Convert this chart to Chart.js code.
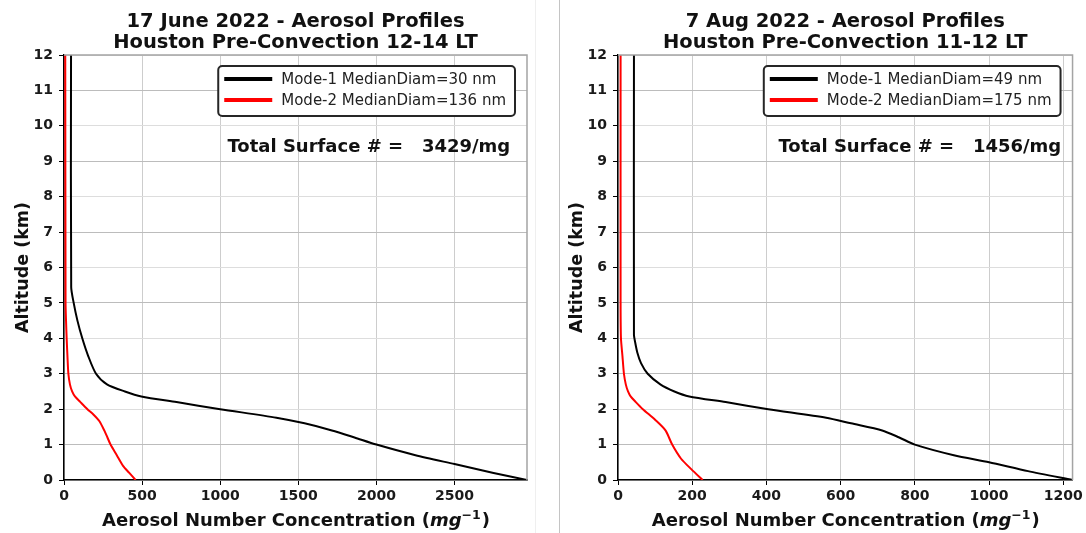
<!DOCTYPE html>
<html>
<head>
<meta charset="utf-8">
<script src="https://cdn.jsdelivr.net/npm/chart.js@4.4.1/dist/chart.umd.min.js"></script>
<style>
  html, body { margin: 0; padding: 0; background: #fff; }
  #wrap { position: relative; width: 1086px; height: 533px; overflow: hidden; }
  .panel { position: absolute; top: 0; height: 533px; }
  #p1 { left: 0; width: 535px; }
  #p2 { left: 554px; width: 532px; }
  .rule { position: absolute; top: 0; width: 1px; height: 533px; }
  canvas { display: block; }
</style>
</head>
<body>
<div id="wrap">
  <div class="rule" style="left:535px;background:#efefef"></div>
  <div class="rule" style="left:559px;background:#c4c4c4"></div>
  <div class="panel" id="p1"><canvas id="c1" width="535" height="533"></canvas></div>
  <div class="panel" id="p2"><canvas id="c2" width="532" height="533"></canvas></div>
</div>
<script>
// ---- 17 June 2022 profiles (altitude in km, concentration in mg^-1) ----
const juneAltMode1 = [0, 0.2, 0.45, 0.7, 1.0, 1.2, 1.4, 1.6, 1.76, 2.0, 2.2, 2.36, 2.5, 2.7, 3.0, 3.5, 4.0, 4.5, 5.0, 5.45, 12];
const juneMode1    = [2964, 2750, 2500, 2250, 2000, 1860, 1715, 1540, 1360, 1000, 720, 495, 390, 275, 205, 155, 117, 86, 62, 46, 45];
const juneAltMode2 = [0, 0.2, 0.4, 0.7, 1.0, 1.2, 1.38, 1.66, 1.85, 2.0, 2.2, 2.36, 2.5, 2.7, 3.0, 3.5, 4.0, 4.5, 5.0, 12];
const juneMode2    = [458, 418, 378, 338, 298, 278, 260, 227, 188, 150, 105, 70, 52, 38, 28, 22, 17, 13, 10, 8];
const juneXTicks   = [0, 500, 1000, 1500, 2000, 2500];

// ---- 7 Aug 2022 profiles ----
const augAltMode1 = [0, 0.25, 0.5, 0.7, 1.0, 1.2, 1.4, 1.6, 1.76, 2.0, 2.2, 2.36, 2.5, 2.7, 3.0, 3.3, 3.6, 3.9, 4.1, 12];
const augMode1    = [1225, 1105, 1000, 905, 800, 758, 712, 628, 561, 405, 290, 192, 152, 114, 80, 62, 52, 46, 43, 43];
const augAltMode2 = [0, 0.3, 0.6, 1.0, 1.4, 1.7, 2.0, 2.2, 2.36, 2.5, 2.7, 3.0, 3.5, 4.0, 5.0, 12];
const augMode2    = [228, 198, 170, 146, 128, 100, 67, 48, 34, 27, 21, 16, 12, 8, 7, 7];
const augXTicks   = [0, 200, 400, 600, 800, 1000, 1200];

// ---- shared altitude ticks ----
const altTicks = [0, 1, 2, 3, 4, 5, 6, 7, 8, 9, 10, 11, 12];

// ---- labels ----
const juneTitle  = ['17 June 2022 - Aerosol Profiles', 'Houston Pre-Convection 12-14 LT'];
const augTitle   = ['7 Aug 2022 - Aerosol Profiles', 'Houston Pre-Convection 11-12 LT'];
const juneLabels = ['Mode-1 MedianDiam=30 nm', 'Mode-2 MedianDiam=136 nm'];
const augLabels  = ['Mode-1 MedianDiam=49 nm', 'Mode-2 MedianDiam=175 nm'];
const juneSurface = 'Total Surface # =   3429/mg';
const augSurface  = 'Total Surface # =   1456/mg';
const yTitle = 'Altitude (km)';
const xTitleParts = ['Aerosol Number Concentration (', 'mg', '\u22121', ')'];

const FONT = '"DejaVu Sans", Verdana, sans-serif';
Chart.defaults.font.family = FONT;

function profile(alts, vals) {
  return alts.map((a, i) => ({ x: vals[i], y: a }));
}

// Titles, in-plot legend, annotation, top/right spines and the x-axis title
const decor = {
  id: 'decor',
  afterDraw(chart, args, o) {
    const { ctx, chartArea: a } = chart;
    const cx = (a.left + a.right) / 2;
    ctx.save();

    // top and right spines
    ctx.strokeStyle = '#a4a4a4';
    ctx.lineWidth = 1.5;
    ctx.beginPath();
    ctx.moveTo(a.left, a.top);
    ctx.lineTo(a.right, a.top);
    ctx.lineTo(a.right, a.bottom);
    ctx.stroke();

    // two-line title
    ctx.fillStyle = '#111';
    ctx.textAlign = 'center';
    ctx.textBaseline = 'alphabetic';
    ctx.font = 'bold 19.5px ' + FONT;
    o.title.forEach((t, i) => ctx.fillText(t, cx, 27 + i * 21));

    // total surface annotation
    ctx.textAlign = 'left';
    ctx.font = 'bold 18px ' + FONT;
    ctx.fillText(o.surface, a.left + 0.353 * (a.right - a.left), 152);

    // legend box
    const ds = chart.data.datasets;
    ctx.font = '15px ' + FONT;
    const tw = Math.max(...ds.map(d => ctx.measureText(d.label).width));
    const w = 6 + 48 + 9 + tw + 9, h = 50;
    const x0 = a.right - 12 - w, y0 = a.top + 11;
    ctx.beginPath();
    ctx.roundRect(x0, y0, w, h, 4);
    ctx.fillStyle = '#fff';
    ctx.fill();
    ctx.strokeStyle = '#262626';
    ctx.lineWidth = 2;
    ctx.stroke();
    ds.forEach((d, i) => {
      const yy = y0 + 13 + i * 21;
      ctx.strokeStyle = d.borderColor;
      ctx.lineWidth = 4;
      ctx.beginPath();
      ctx.moveTo(x0 + 6, yy);
      ctx.lineTo(x0 + 54, yy);
      ctx.stroke();
      ctx.fillStyle = '#222';
      ctx.textBaseline = 'middle';
      ctx.fillText(d.label, x0 + 63, yy + 1);
    });

    // x-axis title with italic unit and superscript
    const parts = [
      { t: xTitleParts[0], f: 'bold 18px ' + FONT, dy: 0 },
      { t: xTitleParts[1], f: 'italic bold 18px ' + FONT, dy: 0 },
      { t: xTitleParts[2], f: 'bold 12.5px ' + FONT, dy: -7 },
      { t: xTitleParts[3], f: 'bold 18px ' + FONT, dy: 0 }
    ];
    let total = 0;
    parts.forEach(p => { ctx.font = p.f; p.w = ctx.measureText(p.t).width; total += p.w; });
    let x = cx - total / 2;
    ctx.textAlign = 'left';
    ctx.textBaseline = 'alphabetic';
    ctx.fillStyle = '#111';
    parts.forEach(p => { ctx.font = p.f; ctx.fillText(p.t, x, 526 + p.dy); x += p.w + (p.dy ? 1 : 0); });

    ctx.restore();
  }
};

function fixedTicks(values) {
  return function (scale) { scale.ticks = values.map(v => ({ value: v })); };
}

function makeChart(id, cfg) {
  return new Chart(document.getElementById(id), {
    type: 'scatter',
    data: {
      datasets: [
        { label: cfg.labels[0], data: profile(cfg.alt1, cfg.val1), borderColor: '#000000',
          backgroundColor: '#000000', borderWidth: 2, showLine: true, pointRadius: 0, tension: 0.25 },
        { label: cfg.labels[1], data: profile(cfg.alt2, cfg.val2), borderColor: '#ff0000',
          backgroundColor: '#ff0000', borderWidth: 2, showLine: true, pointRadius: 0, tension: 0.25 }
      ]
    },
    options: {
      responsive: false,
      animation: false,
      events: [],
      layout: { padding: { top: 55, right: cfg.padRight, left: 0, bottom: 0 } },
      plugins: {
        legend: { display: false },
        tooltip: { enabled: false },
        decor: { title: cfg.title, surface: cfg.surface }
      },
      scales: {
        x: {
          type: 'linear',
          min: 0,
          max: Math.max(...cfg.val1),
          afterBuildTicks: fixedTicks(cfg.xTicks),
          ticks: { maxRotation: 0, padding: 3, autoSkip: false, callback: v => String(v),
                   color: '#1a1a1a', font: { size: 14, weight: 'bold' } },
          grid: { color: '#cdcdcd', lineWidth: 1, tickColor: '#000', tickLength: 5, tickWidth: 1 },
          border: { color: '#000', width: 1.5 },
          afterFit(s) { s.height = 53; }
        },
        y: {
          type: 'linear',
          min: 0,
          max: 12,
          afterBuildTicks: fixedTicks(altTicks),
          ticks: { padding: 6, autoSkip: false, callback: v => String(v),
                   color: '#1a1a1a', font: { size: 14, weight: 'bold' } },
          grid: {
            color: c => (c.tick && c.tick.value % 2 === 1) ? '#bcbcbc' : '#dddddd',
            lineWidth: 1, tickColor: '#000', tickLength: 5, tickWidth: 1
          },
          border: { color: '#000', width: 1.5 },
          title: { display: true, text: yTitle, color: '#111',
                   font: { size: 17.5, weight: 'bold' }, padding: { top: 13, bottom: 0 } },
          afterFit(s) { s.width = 64; }
        }
      }
    },
    plugins: [decor]
  });
}

makeChart('c1', {
  alt1: juneAltMode1, val1: juneMode1, alt2: juneAltMode2, val2: juneMode2,
  labels: juneLabels, title: juneTitle, surface: juneSurface, xTicks: juneXTicks, padRight: 8
});
makeChart('c2', {
  alt1: augAltMode1, val1: augMode1, alt2: augAltMode2, val2: augMode2,
  labels: augLabels, title: augTitle, surface: augSurface, xTicks: augXTicks, padRight: 12
});
</script>
</body>
</html>
